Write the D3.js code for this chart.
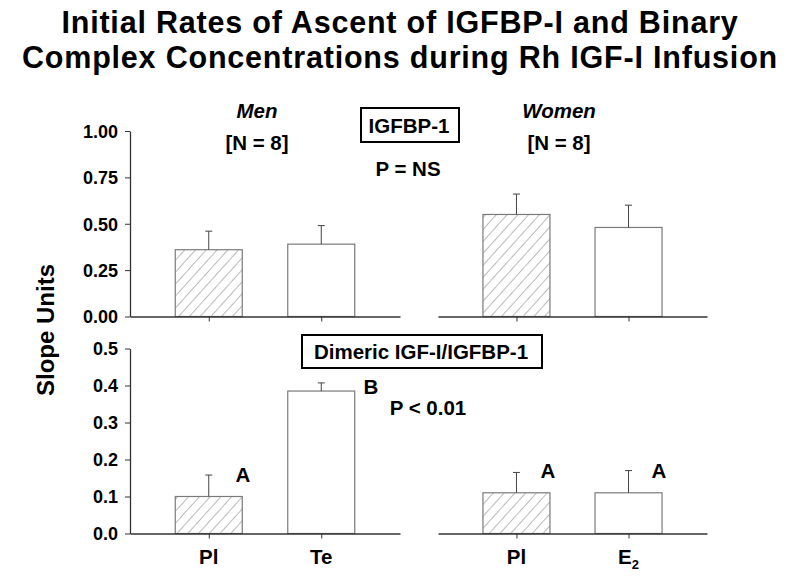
<!DOCTYPE html>
<html>
<head>
<meta charset="utf-8">
<script src="https://cdn.jsdelivr.net/npm/d3@7"></script>
<style>
  body { margin: 0; background: #fff; }
  svg { display: block; font-family: Arial, "Liberation Sans", sans-serif; }
</style>
</head>
<body>
<svg id="chart" width="800" height="580"></svg>
<script>
// ---- Data ----
const titleLines = ["Initial Rates of Ascent of IGFBP-I and Binary", "Complex Concentrations during Rh IGF-I Infusion"];
const groupNames = ["Men", "Women"];
const groupN = ["[N = 8]", "[N = 8]"];
const menCats = ["Pl", "Te"];
const womenCats = ["Pl", "E2"];

const igfbpMen = [0.36, 0.39];
const igfbpMenErr = [0.10, 0.10];
const igfbpWomen = [0.55, 0.48];
const igfbpWomenErr = [0.11, 0.12];

const dimerMen = [0.10, 0.385];
const dimerMenErr = [0.058, 0.022];
const dimerWomen = [0.11, 0.11];
const dimerWomenErr = [0.055, 0.06];

const dimerMenLetters = ["A", "B"];
const dimerWomenLetters = ["A", "A"];

const topTicks = [0, 0.25, 0.5, 0.75, 1.0];
const bottomTicks = [0, 0.1, 0.2, 0.3, 0.4, 0.5];

// ---- Layout ----
const svg = d3.select("#chart");
const leftRange = [130, 400];
const rightRange = [438, 707];
const topY = d3.scaleLinear().domain([0, 1]).range([316.5, 131]);
const botY = d3.scaleLinear().domain([0, 0.5]).range([533.5, 348.5]);
const barW = 67;
const axisColor = "#333";
const barStroke = "#7a7a7a";
const labelSize = 20.5;

const defs = svg.append("defs");
const pat = defs.append("pattern")
  .attr("id", "hatch").attr("patternUnits", "userSpaceOnUse")
  .attr("width", 8).attr("height", 8)
  .attr("patternTransform", "rotate(42)");
pat.append("rect").attr("width", 8).attr("height", 8).attr("fill", "#fff");
pat.append("line").attr("x1", 0).attr("y1", 0).attr("x2", 0).attr("y2", 8)
  .attr("stroke", "#555").attr("stroke-width", 0.8);

// Title
svg.append("g").selectAll("text").data(titleLines).join("text")
  .attr("x", 400).attr("y", (d, i) => 33 + i * 35)
  .attr("text-anchor", "middle").attr("font-size", 30.5).attr("font-weight", "bold")
  .attr("letter-spacing", 0.8)
  .text(d => d);

function xScale(cats, range) {
  return d3.scalePoint().domain(cats).range(range).padding(0.7);
}

function drawPanel(y, cats, range, vals, errs, showLabels) {
  const x = xScale(cats, range);
  const g = svg.append("g");
  const data = cats.map((c, i) => ({ c, v: vals[i], e: errs[i], i }));
  g.selectAll("rect.bar").data(data).join("rect")
    .attr("class", "bar")
    .attr("x", d => x(d.c) - barW / 2)
    .attr("y", d => y(d.v))
    .attr("width", barW)
    .attr("height", d => y(0) - y(d.v))
    .attr("fill", d => d.i === 0 ? "url(#hatch)" : "#fff")
    .attr("stroke", barStroke).attr("stroke-width", 1.2);
  g.selectAll("line.err").data(data).join("line")
    .attr("x1", d => x(d.c)).attr("x2", d => x(d.c))
    .attr("y1", d => y(d.v)).attr("y2", d => y(d.v + d.e))
    .attr("stroke", "#444").attr("stroke-width", 1);
  g.selectAll("line.cap").data(data).join("line")
    .attr("x1", d => x(d.c) - 3.5).attr("x2", d => x(d.c) + 3.5)
    .attr("y1", d => y(d.v + d.e)).attr("y2", d => y(d.v + d.e))
    .attr("stroke", "#444").attr("stroke-width", 1);
  const ax = g.append("g").attr("transform", `translate(0,${y(0)})`)
    .call(d3.axisBottom(x).tickSize(5).tickSizeOuter(0).tickFormat(""));
  ax.select(".domain").attr("stroke", axisColor).attr("stroke-width", 1.3);
  ax.selectAll(".tick line").attr("stroke", axisColor);
  if (showLabels) {
    const lab = g.selectAll("text.xl").data(data).join("text")
      .attr("x", d => x(d.c)).attr("y", 564)
      .attr("text-anchor", "middle").attr("font-size", labelSize).attr("font-weight", "bold");
    lab.each(function(d) {
      const t = d3.select(this);
      if (d.c === "E2") {
        t.append("tspan").text("E");
        t.append("tspan").attr("font-size", 13).attr("dy", 5).text("2");
      } else {
        t.text(d.c);
      }
    });
  }
  return x;
}

function drawYAxis(y, ticks, fmt) {
  const g = svg.append("g").attr("transform", `translate(${leftRange[0]},0)`)
    .call(d3.axisLeft(y).tickValues(ticks).tickFormat(d3.format(fmt)).tickSize(5).tickSizeOuter(0));
  g.select(".domain").attr("stroke", axisColor).attr("stroke-width", 1.3);
  g.selectAll(".tick line").attr("stroke", axisColor);
  g.selectAll(".tick text").attr("font-size", 18).attr("font-weight", "bold")
    .attr("fill", "#000").attr("font-family", "Arial, 'Liberation Sans', sans-serif")
    .attr("x", -12).attr("dy", "0.36em");
}

// Top panel
drawYAxis(topY, topTicks, ".2f");
drawPanel(topY, menCats, leftRange, igfbpMen, igfbpMenErr, false);
drawPanel(topY, womenCats, rightRange, igfbpWomen, igfbpWomenErr, false);

// Bottom panel
drawYAxis(botY, bottomTicks, ".1f");
drawPanel(botY, menCats, leftRange, dimerMen, dimerMenErr, true);
drawPanel(botY, womenCats, rightRange, dimerWomen, dimerWomenErr, true);

// Significance letters
const letterPos = [
  { x: 243, y: 482, t: dimerMenLetters[0] },
  { x: 371, y: 394, t: dimerMenLetters[1] },
  { x: 548, y: 478, t: dimerWomenLetters[0] },
  { x: 659, y: 478, t: dimerWomenLetters[1] }
];
svg.append("g").selectAll("text").data(letterPos).join("text")
  .attr("x", d => d.x).attr("y", d => d.y)
  .attr("text-anchor", "middle").attr("font-size", labelSize).attr("font-weight", "bold")
  .text(d => d.t);

// Group headers
const hdr = svg.append("g");
const hx = [257, 559];
groupNames.forEach((n, i) => {
  hdr.append("text").attr("x", hx[i]).attr("y", 118).attr("text-anchor", "middle")
    .attr("font-size", labelSize).attr("font-weight", "bold").attr("font-style", "italic").text(n);
  hdr.append("text").attr("x", hx[i]).attr("y", 150).attr("text-anchor", "middle")
    .attr("font-size", labelSize).attr("font-weight", "bold").text(groupN[i]);
});

// Boxed panel labels
function boxLabel(cx, baseline, text, x0, x1, y0, y1) {
  svg.append("rect").attr("x", x0).attr("y", y0).attr("width", x1 - x0).attr("height", y1 - y0)
    .attr("fill", "#fff").attr("stroke", "#000").attr("stroke-width", 2);
  svg.append("text").attr("x", cx).attr("y", baseline).attr("text-anchor", "middle")
    .attr("font-size", labelSize).attr("font-weight", "bold").text(text);
}
boxLabel(409, 133, "IGFBP-1", 361, 459, 108, 142);
boxLabel(421, 359, "Dimeric IGF-I/IGFBP-1", 302, 542, 335, 368);

svg.append("text").attr("x", 408).attr("y", 176).attr("text-anchor", "middle")
  .attr("font-size", labelSize).attr("font-weight", "bold").text("P = NS");
svg.append("text").attr("x", 428).attr("y", 415).attr("text-anchor", "middle")
  .attr("font-size", labelSize).attr("font-weight", "bold").text("P < 0.01");

// Y axis title
svg.append("text").attr("transform", "translate(54,330) rotate(-90)")
  .attr("text-anchor", "middle").attr("font-size", 24).attr("font-weight", "bold")
  .text("Slope Units");
</script>
</body>
</html>
